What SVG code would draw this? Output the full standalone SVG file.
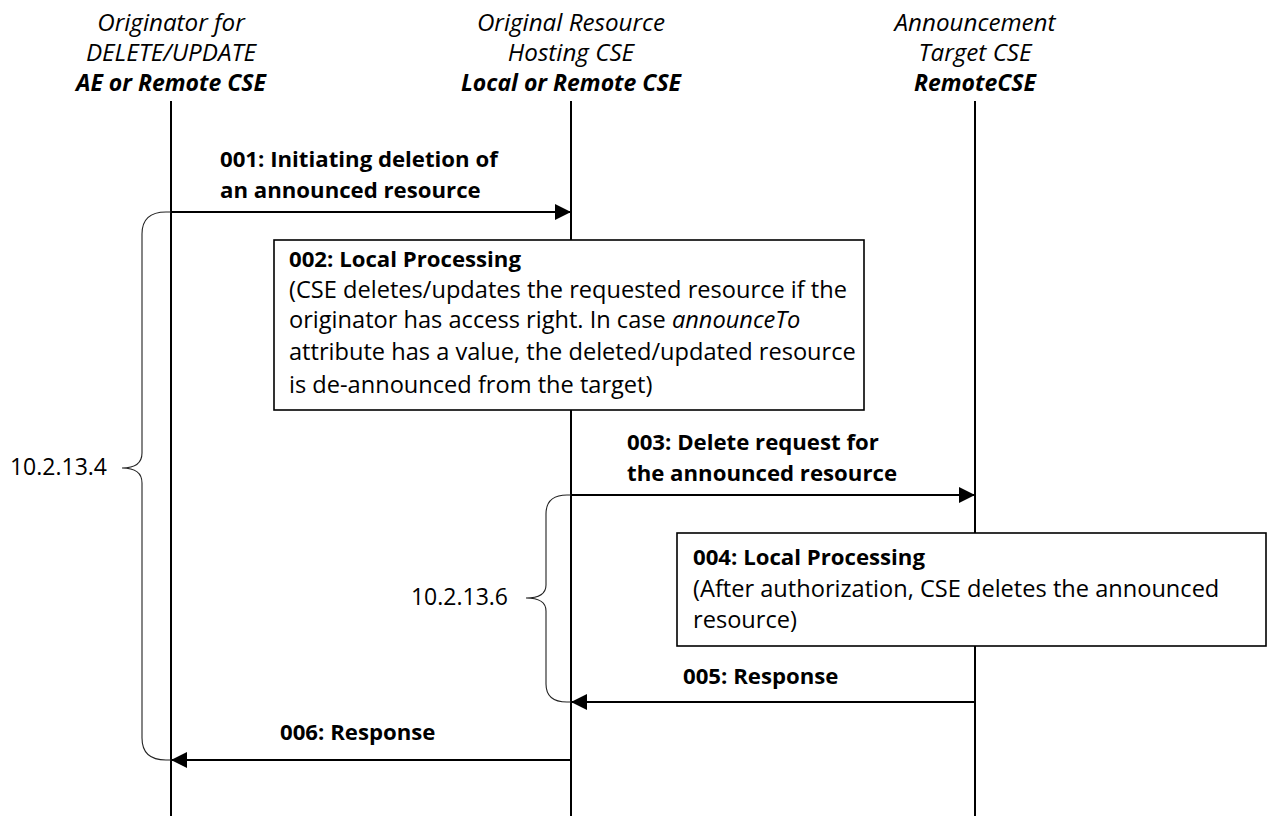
<svg xmlns="http://www.w3.org/2000/svg" width="1268" height="816" viewBox="0 0 1268 816">
<style>
text{font-family:"Open Sans","Liberation Sans",sans-serif;font-size:23.6px;fill:#000}
.b{font-weight:bold;font-size:22.2px}
.i{font-style:italic}
.h{text-anchor:middle;font-style:italic;font-size:24.2px}
.hb{text-anchor:middle;font-style:italic;font-weight:bold;font-size:23px}
.n{text-anchor:end;font-size:23px}
.life{stroke:#000;stroke-width:2;fill:none}
.msg{stroke:#000;stroke-width:2;fill:none}
.box{fill:#fff;stroke:#000;stroke-width:1.6}
.brace{fill:none;stroke:#222;stroke-width:1.1}
</style>
<defs>
<marker id="ah" viewBox="0 0 16 16" refX="16" refY="8" markerWidth="16" markerHeight="16" markerUnits="userSpaceOnUse" orient="auto">
<path d="M0,0 L16,8 L0,16 Z" fill="#000"/>
</marker>
</defs>
<g id="lifelines">
<g id="originator">
<text class="h" x="171" y="31">Originator for</text>
<text class="h" x="171" y="61">DELETE/UPDATE</text>
<text class="hb" x="171" y="91">AE or Remote CSE</text>
<line class="life" x1="171" y1="101" x2="171" y2="816"/>
</g>
<g id="hosting">
<text class="h" x="571" y="31">Original Resource</text>
<text class="h" x="571" y="61">Hosting CSE</text>
<text class="hb" x="571" y="91">Local or Remote CSE</text>
<line class="life" x1="571" y1="101" x2="571" y2="816"/>
</g>
<g id="target">
<text class="h" x="975" y="31">Announcement</text>
<text class="h" x="975" y="61">Target CSE</text>
<text class="hb" x="975" y="91">RemoteCSE</text>
<line class="life" x1="975" y1="101" x2="975" y2="816"/>
</g>
</g>
<g id="connectors">
<line class="msg" x1="171" y1="212" x2="571" y2="212" marker-end="url(#ah)"/>
<line class="msg" x1="571" y1="495" x2="975" y2="495" marker-end="url(#ah)"/>
<line class="msg" x1="975" y1="702" x2="571" y2="702" marker-end="url(#ah)"/>
<line class="msg" x1="571" y1="760" x2="171" y2="760" marker-end="url(#ah)"/>
<text class="b" x="220" y="167">001: Initiating deletion of</text>
<text class="b" x="220" y="198">an announced resource</text>
<text class="b" x="627" y="450">003: Delete request for</text>
<text class="b" x="627" y="481">the announced resource</text>
<text class="b" x="683" y="684">005: Response</text>
<text class="b" x="280" y="740">006: Response</text>
</g>
<g id="box002">
<rect class="box" x="274" y="240" width="590" height="170"/>
<text class="b" x="289" y="267">002: Local Processing</text>
<text x="289" y="298">(CSE deletes/updates the requested resource if the</text>
<text x="289" y="328">originator has access right. In case <tspan class="i">announceTo</tspan></text>
<text x="289" y="360">attribute has a value, the deleted/updated resource</text>
<text x="289" y="393">is de-announced from the target)</text>
</g>
<g id="box004">
<rect class="box" x="677" y="533" width="589" height="113"/>
<text class="b" x="693" y="565">004: Local Processing</text>
<text x="693" y="597">(After authorization, CSE deletes the announced</text>
<text x="693" y="628">resource)</text>
</g>
<g id="brace1">
<path class="brace" d="M171 212 L166 212 Q142 212 142 234 L142 453 Q142 468 122 468 Q142 468 142 483 L142 738 Q142 760 166 760 L171 760"/>
<text class="n" x="107" y="475">10.2.13.4</text>
</g>
<g id="brace2">
<path class="brace" d="M571 495 L567 495 Q546 495 546 514 L546 585 Q546 598 526 598 Q546 598 546 611 L546 684 Q546 702 567 702 L571 702"/>
<text class="n" x="508" y="605">10.2.13.6</text>
</g>
</svg>
